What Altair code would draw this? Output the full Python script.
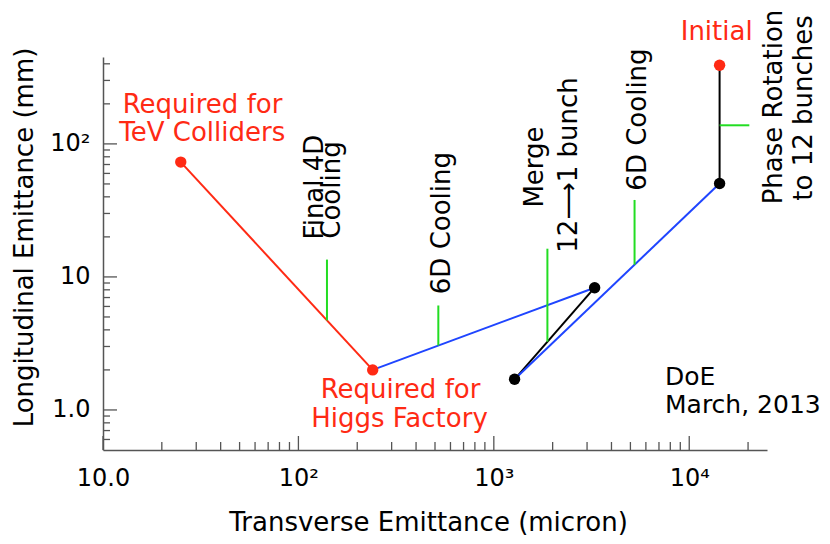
import altair as alt
import pandas as pd

RED = "#ff2a14"
BLUE = "#1f45ff"
BLACK = "#000000"
GREEN = "#22dd22"
AXIS = "#555555"
FONT = "DejaVu Sans"

# emittance path segments (transverse micron, longitudinal mm)
seg_x = [25, 240, 3280, 1277, 14300]
seg_y = [73, 2.0, 8.3, 1.7, 50.4]
seg_x2 = [240, 3280, 1277, 14300, 14300]
seg_y2 = [2.0, 8.3, 1.7, 50.4, 390]
seg_color = [RED, BLUE, BLACK, BLUE, BLACK]

# points
pt_x = [25, 240, 14300, 3280, 1277, 14300]
pt_y = [73, 2.0, 390, 8.3, 1.7, 50.4]
pt_color = [RED, RED, RED, BLACK, BLACK, BLACK]

# green stage markers
gr_x = [140, 520, 1880, 5250, 14300]
gr_x2 = [140, 520, 1880, 5250, 20300]
gr_y = [4.71, 3.05, 3.26, 12.35, 138]
gr_y2 = [13.5, 6.1, 16.3, 37.9, 138]

# red annotations (one row per text line)
red_text = ["Required for", "TeV Colliders", "Required for", "Higgs Factory", "Initial"]
red_x = [32.3, 32.2, 333, 329, 13820]
red_y = [170.7, 105.1, 1.224, 0.744, 604]

# rotated stage labels (one row per text line)
rot_text = ["Final 4D", "Cooling", "6D Cooling", "Merge", "12\u27f61 bunch", "6D Cooling",
            "Phase Rotation", "to 12 bunches"]
rot_x = [133.2, 163.2, 597, 1785, 2666, 6010, 29740, 42350]
rot_y = [47.4, 45.0, 25.4, 67.0, 69.4, 152.5, 189.4, 186.2]

# note
note_text = ["DoE", "March, 2013"]
note_x = [7516, 7516]
note_y = [1.540, 0.944]

# axis ticks
x_major = [10, 100, 1000, 10000]
x_minor = [20, 30, 40, 50, 60, 70, 80, 90,
           200, 300, 400, 500, 600, 700, 800, 900,
           2000, 3000, 4000, 5000, 6000, 7000, 8000, 9000,
           20000]
y_major = [1, 10, 100]
y_minor = [0.6, 0.7, 0.8, 0.9,
           2, 3, 4, 5, 6, 7, 8, 9,
           20, 30, 40, 50, 60, 70, 80, 90,
           200, 300, 400]

W, H = 664, 393
xs = alt.Scale(type="log", domain=[10, 25000], nice=False)
ys = alt.Scale(type="log", domain=[0.5, 450], nice=False)

x_axis = alt.Axis(
    values=x_major,
    labelExpr="datum.value == 10 ? '10.0' : datum.value == 100 ? '10\u00b2' : datum.value == 1000 ? '10\u00b3' : '10\u2074'",
    ticks=False, tickSize=0, grid=False, domainColor=AXIS, domainWidth=1.5,
    labelFont=FONT, labelFontSize=24, labelColor=BLACK, labelPadding=16,
    labelFlush=False, labelOverlap=False,
    title="Transverse Emittance (micron)", titleFont=FONT, titleFontSize=26,
    titleFontWeight="normal", titleColor=BLACK, titleX=325, titleY=80,
    titleAlign="center", titleBaseline="alphabetic",
)
y_axis = alt.Axis(
    values=y_major,
    labelExpr="datum.value == 1 ? '1.0' : datum.value == 10 ? '10' : '10\u00b2'",
    ticks=False, tickSize=0, grid=False, domainColor=AXIS, domainWidth=1.5,
    labelFont=FONT, labelFontSize=24, labelColor=BLACK, labelPadding=13,
    labelFlush=False, labelOverlap=False,
    title="Longitudinal Emittance (mm)", titleFont=FONT, titleFontSize=26,
    titleFontWeight="normal", titleColor=BLACK, titleAngle=270, titleX=-71, titleY=180,
    titleAlign="center", titleBaseline="alphabetic",
)


def X(field="x"):
    return alt.X(f"{field}:Q", scale=xs, axis=x_axis)


def Y(field="y"):
    return alt.Y(f"{field}:Q", scale=ys, axis=y_axis)


seg_df = pd.DataFrame({"x": seg_x, "y": seg_y, "x2": seg_x2, "y2": seg_y2, "c": seg_color})
pt_df = pd.DataFrame({"x": pt_x, "y": pt_y, "c": pt_color})
gr_df = pd.DataFrame({"x": gr_x, "x2": gr_x2, "y": gr_y, "y2": gr_y2})
red_df = pd.DataFrame({"x": red_x, "y": red_y, "t": red_text})
rot_df = pd.DataFrame({"x": rot_x, "y": rot_y, "t": rot_text})
note_df = pd.DataFrame({"x": note_x, "y": note_y, "t": note_text})

xt_major = alt.Chart(pd.DataFrame({"x": x_major})).mark_rule(color=AXIS, strokeWidth=1.3).encode(
    x=X(), y=alt.value(H), y2=alt.value(H - 14))
xt_minor = alt.Chart(pd.DataFrame({"x": x_minor})).mark_rule(color=AXIS, strokeWidth=1.3).encode(
    x=X(), y=alt.value(H), y2=alt.value(H - 8))
yt_major = alt.Chart(pd.DataFrame({"y": y_major})).mark_rule(color=AXIS, strokeWidth=1.3).encode(
    y=Y(), x=alt.value(0), x2=alt.value(14))
yt_minor = alt.Chart(pd.DataFrame({"y": y_minor})).mark_rule(color=AXIS, strokeWidth=1.3).encode(
    y=Y(), x=alt.value(0), x2=alt.value(7))

segs = alt.Chart(seg_df).mark_rule(strokeWidth=2).encode(
    x=X(), x2="x2:Q", y=Y(), y2="y2:Q",
    color=alt.Color("c:N", scale=None),
)
greens = alt.Chart(gr_df).mark_rule(strokeWidth=2, color=GREEN).encode(
    x=X(), x2="x2:Q", y=Y(), y2="y2:Q",
)
points = alt.Chart(pt_df).mark_circle(size=130, opacity=1).encode(
    x=X(), y=Y(), color=alt.Color("c:N", scale=None),
)
red_labels = alt.Chart(red_df).mark_text(
    font=FONT, fontSize=26, color=RED, align="center", baseline="alphabetic").encode(
    x=X(), y=Y(), text="t:N")
rot_labels = alt.Chart(rot_df).mark_text(
    font=FONT, fontSize=26, color=BLACK, angle=270,
    align="center", baseline="alphabetic").encode(
    x=X(), y=Y(), text="t:N")
note_labels = alt.Chart(note_df).mark_text(
    font=FONT, fontSize=25, color=BLACK, align="left", baseline="alphabetic").encode(
    x=X(), y=Y(), text="t:N")

chart = alt.layer(
    xt_major, xt_minor, yt_major, yt_minor,
    segs, greens, points, red_labels, rot_labels, note_labels,
).properties(
    width=W, height=H,
    autosize=alt.AutoSizeParams(type="none"),
    padding={"left": 95, "top": 49, "right": 55, "bottom": 86},
).configure_view(stroke=None)

chart.save("out.html", embed_options={"renderer": "svg", "actions": False})
